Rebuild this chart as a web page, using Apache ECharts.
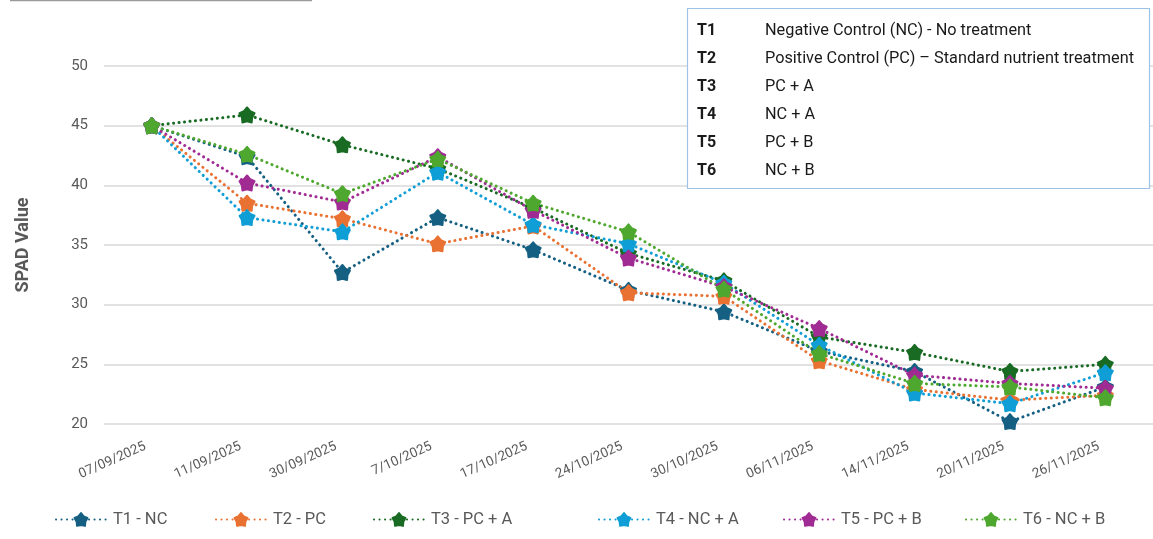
<!DOCTYPE html>
<html>
<head>
<meta charset="utf-8">
<title>SPAD Value</title>
<script src="https://cdn.jsdelivr.net/npm/echarts@6/dist/echarts.min.js"></script>
<style>
  html, body { margin: 0; padding: 0; background: #ffffff; }
  #chart { width: 1153px; height: 539px; }
</style>
</head>
<body>
<div id="chart"></div>
<script>
// Sampling dates
const dates = ['07/09/2025', '11/09/2025', '30/09/2025', '7/10/2025', '17/10/2025', '24/10/2025',
               '30/10/2025', '06/11/2025', '14/11/2025', '20/11/2025', '26/11/2025'];

// SPAD readings per treatment
const t1 = [45.0, 42.4, 32.7, 37.3, 34.6, 31.2, 29.4, 26.1, 24.4, 20.2, 23.1];
const t2 = [45.0, 38.5, 37.2, 35.1, 36.6, 31.0, 30.7, 25.3, 22.9, 22.0, 22.4];
const t3 = [45.0, 45.9, 43.4, 41.4, 38.1, 34.3, 32.0, 27.3, 26.0, 24.4, 25.0];
const t4 = [45.0, 37.3, 36.1, 41.1, 36.7, 35.1, 31.8, 26.6, 22.6, 21.7, 24.3];
const t5 = [45.0, 40.2, 38.6, 42.4, 37.9, 33.9, 31.5, 28.0, 24.1, 23.4, 23.0];
const t6 = [45.0, 42.6, 39.3, 42.2, 38.5, 36.1, 31.3, 25.9, 23.4, 23.1, 22.2];

const seriesNames = ['T1 - NC', 'T2 - PC', 'T3 - PC + A', 'T4 - NC + A', 'T5 - PC + B', 'T6 - NC + B'];
const seriesValues = [t1, t2, t3, t4, t5, t6];
const seriesColors = ['#156082', '#E97132', '#196B24', '#0F9ED5', '#A02B93', '#4EA72E'];

// Treatment key
const keyCodes = ['T1', 'T2', 'T3', 'T4', 'T5', 'T6'];
const keyTexts = ['Negative Control (NC) - No treatment',
                  'Positive Control (PC) \u2013 Standard nutrient treatment',
                  'PC + A', 'NC + A', 'PC + B', 'NC + B'];

// Plump five-point star marker
function starPath() {
  const pts = [];
  for (let i = 0; i < 10; i++) {
    const r = i % 2 === 0 ? 10 : 6.8;
    const a = -Math.PI / 2 + i * Math.PI / 5;
    pts.push((10 + r * Math.cos(a)).toFixed(2) + ' ' + (10 + r * Math.sin(a)).toFixed(2));
  }
  return 'path://M' + pts.join(' L') + ' Z';
}
const marker = starPath();

const textColor = '#595959';
const font = 'Roboto';

const chart = echarts.init(document.getElementById('chart'), null, { renderer: 'canvas' });

const series = seriesNames.map((name, i) => ({
  name: name,
  type: 'line',
  data: seriesValues[i],
  symbol: marker,
  symbolSize: 15,
  color: seriesColors[i],
  itemStyle: { color: seriesColors[i], borderColor: seriesColors[i], borderWidth: 2, borderJoin: 'round' },
  lineStyle: { color: seriesColors[i], width: 3, type: [0.1, 5.4], cap: 'round' },
  emphasis: { disabled: true },
  animation: false,
  z: 3
}));

const legendLefts = [50, 210, 368, 593, 778, 960];
const legends = seriesNames.map((name, i) => ({
  data: [name],
  left: legendLefts[i],
  top: 506,
  itemWidth: 50,
  itemHeight: 16,
  itemGap: 0,
  textStyle: { color: textColor, fontSize: 16.5, fontFamily: font, padding: [0, 0, 0, 2] },
  selectedMode: false
}));

// Key box rows
const keyGraphics = [];
keyCodes.forEach((code, i) => {
  const y = 30 + i * 28;
  keyGraphics.push({
    type: 'text', left: 697, top: y - 7, z: 11,
    style: { text: code, fill: '#1a1a1a', font: 'bold 16px ' + font }
  });
  keyGraphics.push({
    type: 'text', left: 765, top: y - 7, z: 11,
    style: { text: keyTexts[i], fill: '#1a1a1a', font: '16.3px ' + font }
  });
});

chart.setOption({
  backgroundColor: '#ffffff',
  animation: false,
  grid: { left: 104, right: -3, top: 66, bottom: 115, containLabel: false },
  xAxis: {
    type: 'category',
    data: dates,
    boundaryGap: true,
    axisLine: { show: false },
    axisTick: { show: false },
    axisLabel: { rotate: 24, color: textColor, fontSize: 13.5, fontFamily: font, margin: 19,
                 interval: 0, padding: [0, 7, 0, 0] }
  },
  yAxis: {
    type: 'value',
    min: 20,
    max: 50,
    interval: 5,
    name: 'SPAD Value',
    nameLocation: 'middle',
    nameGap: 72,
    nameTextStyle: { color: textColor, fontSize: 18, fontWeight: 'bold', fontFamily: font },
    axisLine: { show: false },
    axisTick: { show: false },
    axisLabel: { color: textColor, fontSize: 15, fontFamily: font, margin: 16 },
    splitLine: { lineStyle: { color: '#d9d9d9', width: 1.5 } }
  },
  legend: legends,
  series: series,
  graphic: [
    {
      type: 'line', z: 10,
      shape: { x1: 10, y1: 0.5, x2: 312, y2: 0.5 },
      style: { stroke: '#9a9a9a', lineWidth: 1.5 }
    },
    {
      type: 'rect', z: 10,
      shape: { x: 687.5, y: 8.5, width: 462, height: 180 },
      style: { fill: '#ffffff', stroke: '#9dc3e6', lineWidth: 1.2 }
    }
  ].concat(keyGraphics)
});
</script>
</body>
</html>
